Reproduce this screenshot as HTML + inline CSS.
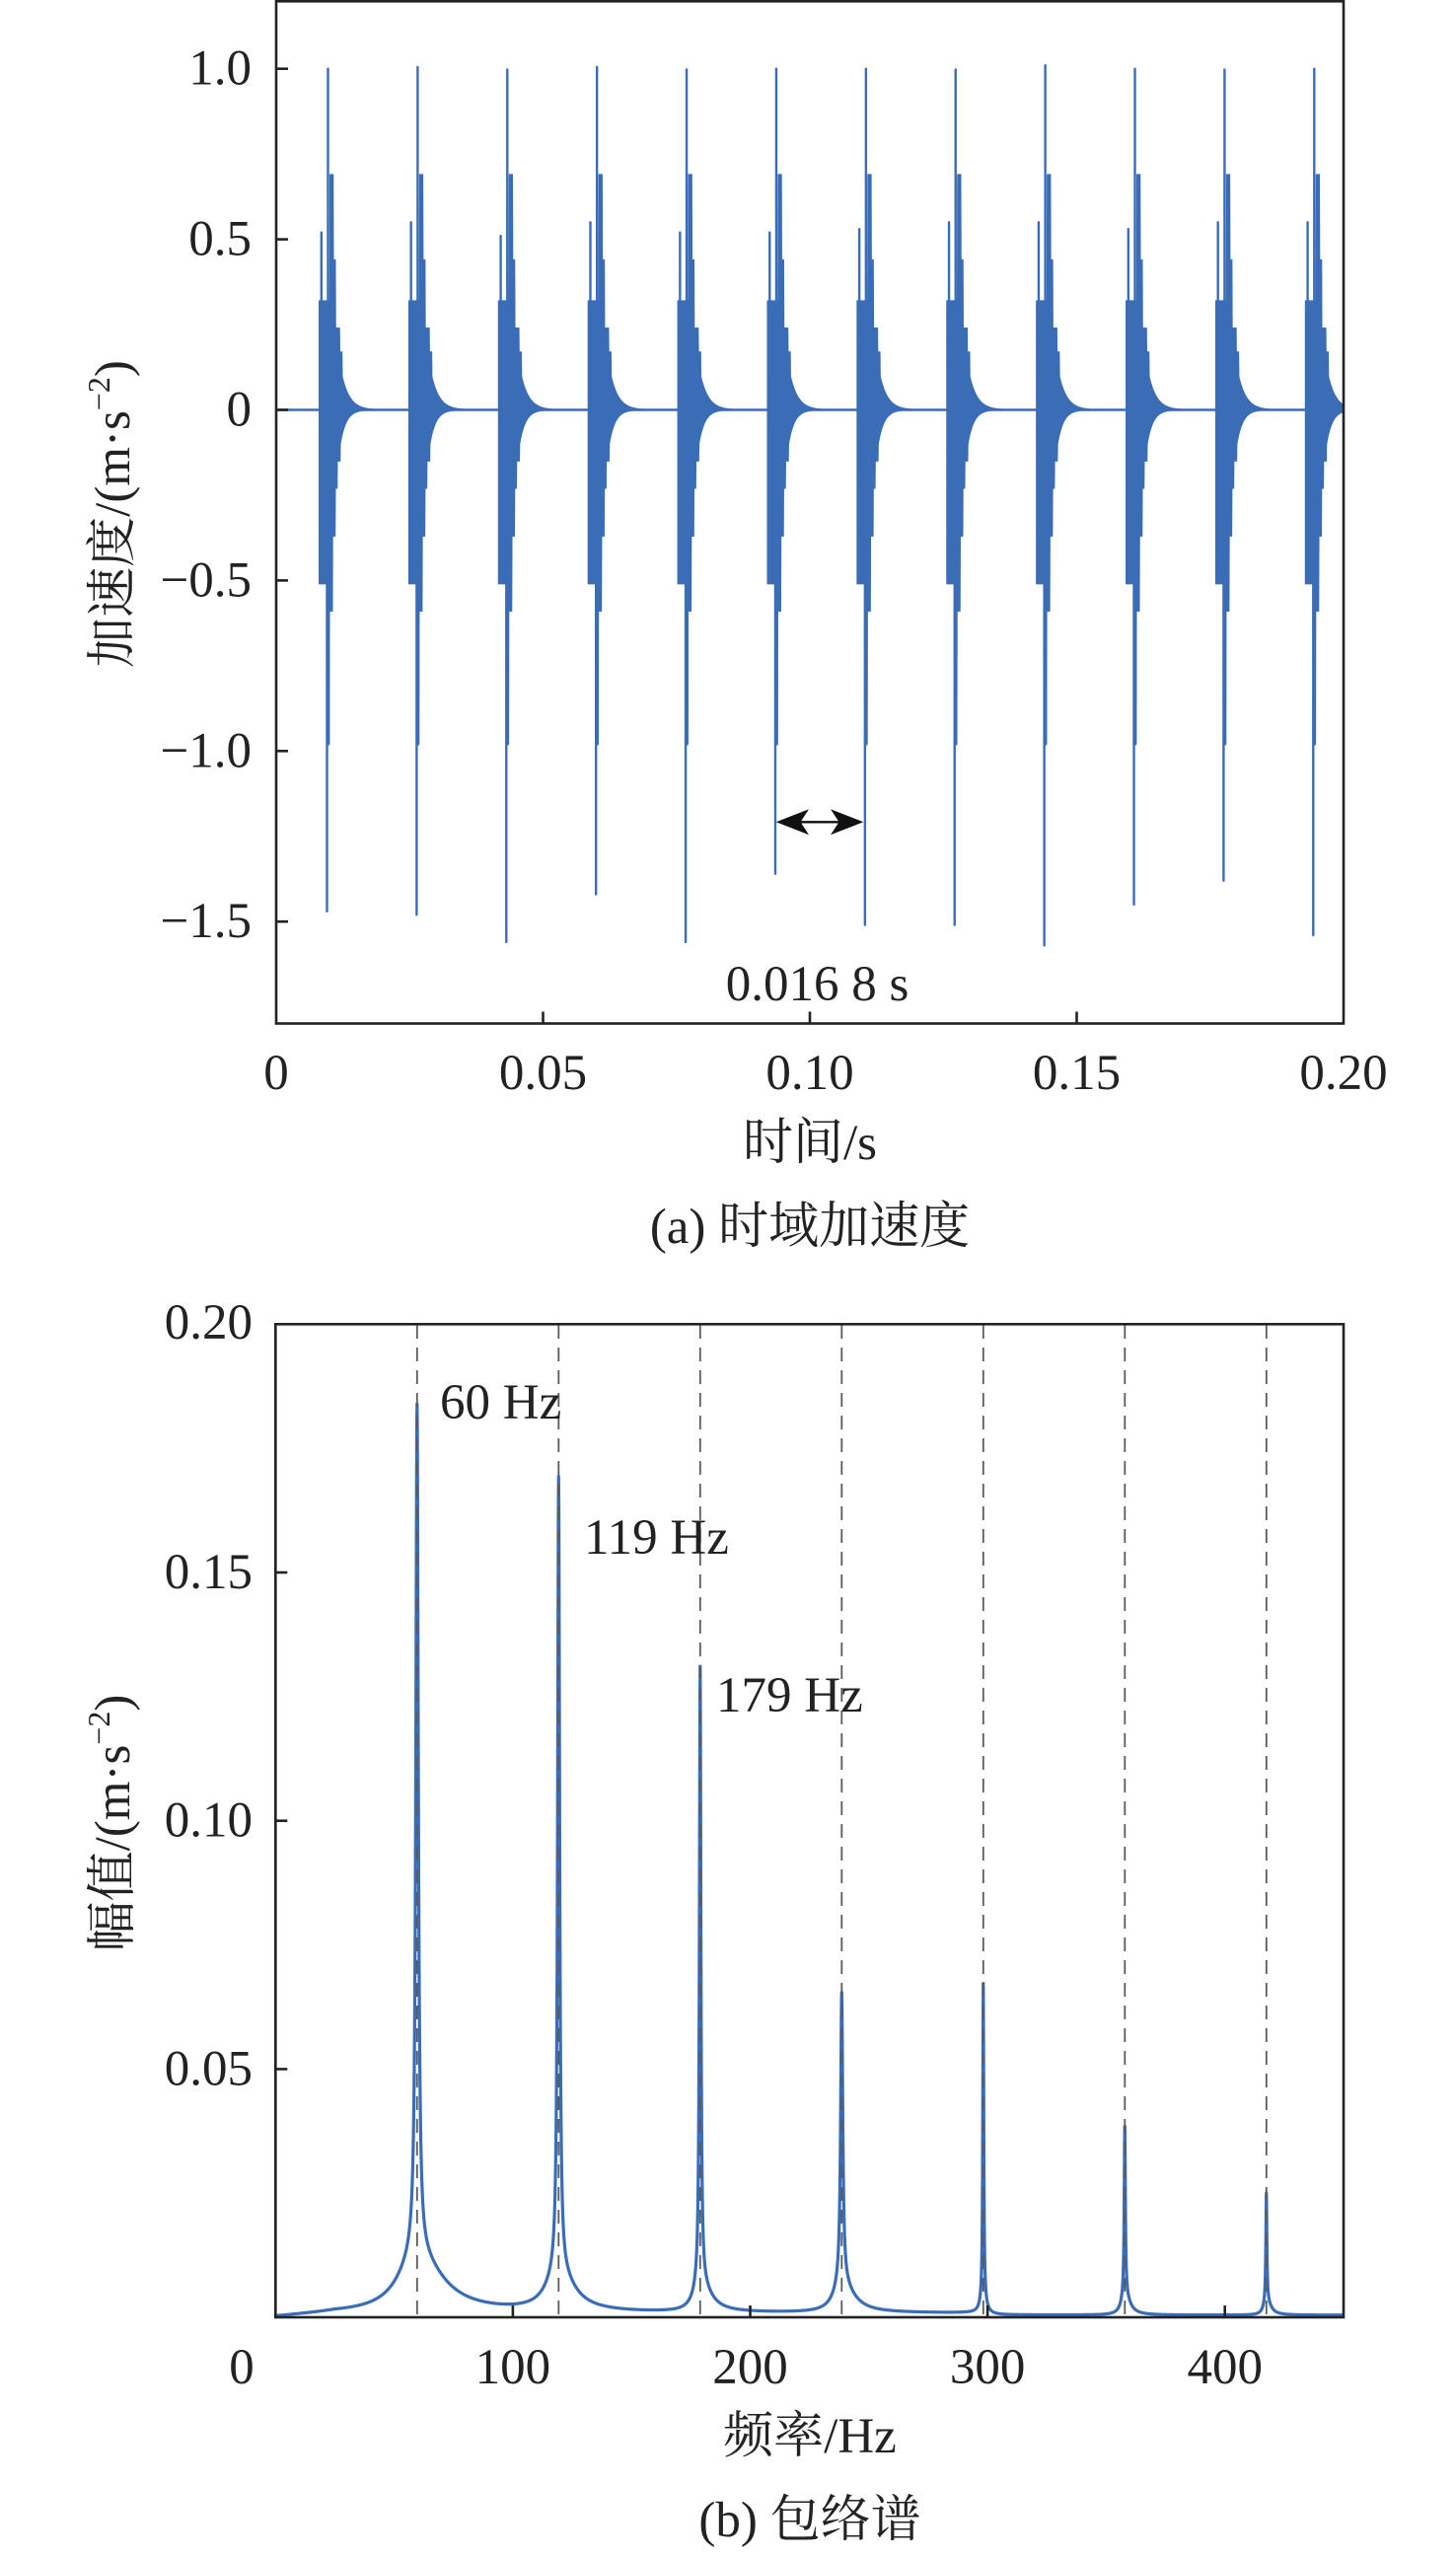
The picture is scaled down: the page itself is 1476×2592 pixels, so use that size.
<!DOCTYPE html>
<html><head><meta charset="utf-8">
<style>
html,body{margin:0;padding:0;background:#fff;}
svg{display:block;}
text{font-family:"Liberation Serif","Noto Serif CJK SC",serif;fill:#222;font-size:51px;}
</style></head><body>
<svg id="s" width="1476" height="2592" viewBox="0 0 1476 2592" xmlns="http://www.w3.org/2000/svg">
<defs>
<clipPath id="ca"><rect x="280" y="0" width="1082" height="1037.5"/></clipPath>
<clipPath id="cb"><rect x="279.3" y="1342.3" width="1082.7" height="1006.7"/></clipPath>
</defs>
<rect width="1476" height="2592" fill="#fff"/>

<!-- ===== Plot (a) ===== -->
<g id="sigA" clip-path="url(#ca)"></g>
<g stroke="#222" stroke-width="2.6" fill="none">
<rect x="280" y="1.3" width="1082" height="1036.2"/>
<line x1="280" y1="69.7" x2="292" y2="69.7"/>
<line x1="280" y1="242.6" x2="292" y2="242.6"/>
<line x1="280" y1="415.5" x2="292" y2="415.5"/>
<line x1="280" y1="588.4" x2="292" y2="588.4"/>
<line x1="280" y1="761.3" x2="292" y2="761.3"/>
<line x1="280" y1="934.2" x2="292" y2="934.2"/>
<line x1="550.5" y1="1037.5" x2="550.5" y2="1025.5"/>
<line x1="821" y1="1037.5" x2="821" y2="1025.5"/>
<line x1="1091.5" y1="1037.5" x2="1091.5" y2="1025.5"/>
</g>
<g text-anchor="end">
<text x="255" y="85.7">1.0</text>
<text x="255" y="258.6">0.5</text>
<text x="255" y="431.5">0</text>
<text x="255" y="604.4">−0.5</text>
<text x="255" y="777.3">−1.0</text>
<text x="255" y="950.2">−1.5</text>
</g>
<g text-anchor="middle">
<text x="280" y="1104">0</text>
<text x="550.5" y="1104">0.05</text>
<text x="821" y="1104">0.10</text>
<text x="1091.5" y="1104">0.15</text>
<text x="1362" y="1104">0.20</text>
<text x="821" y="1175">时间/s</text>
<text x="821" y="1260">(a) 时域加速度</text>
<text x="828.5" y="1014">0.016 8 s</text>
</g>
<text transform="translate(113,521) rotate(-90)" text-anchor="middle" y="18">加速度/(m·s<tspan font-size="32" dy="-20">−2</tspan><tspan dy="20">)</tspan></text>
<!-- arrow -->
<line x1="805" y1="833.3" x2="857" y2="833.3" stroke="#111" stroke-width="2.4"/>
<polygon points="786.7,833.3 820,820.3 811.5,833.3 820,846.3" fill="#111"/>
<polygon points="875.3,833.3 842,820.3 850.5,833.3 842,846.3" fill="#111"/>

<!-- ===== Plot (b) ===== -->
<g id="sigB" clip-path="url(#cb)"></g>
<g stroke="#5a5a5a" stroke-width="1.8" stroke-dasharray="14 9" fill="none">
<line x1="422.8" y1="1343" x2="422.8" y2="2348"/>
<line x1="566.3" y1="1343" x2="566.3" y2="2348"/>
<line x1="709.8" y1="1343" x2="709.8" y2="2348"/>
<line x1="853.3" y1="1343" x2="853.3" y2="2348"/>
<line x1="996.8" y1="1343" x2="996.8" y2="2348"/>
<line x1="1140.3" y1="1343" x2="1140.3" y2="2348"/>
<line x1="1283.8" y1="1343" x2="1283.8" y2="2348"/>
</g>
<g stroke="#222" stroke-width="2.6" fill="none">
<rect x="279.3" y="1342.3" width="1082.7" height="1006.7"/>
<line x1="279.3" y1="1594" x2="291.3" y2="1594"/>
<line x1="279.3" y1="1845.7" x2="291.3" y2="1845.7"/>
<line x1="279.3" y1="2097.4" x2="291.3" y2="2097.4"/>
<line x1="519.9" y1="2349" x2="519.9" y2="2337"/>
<line x1="760.5" y1="2349" x2="760.5" y2="2337"/>
<line x1="1001.1" y1="2349" x2="1001.1" y2="2337"/>
<line x1="1241.7" y1="2349" x2="1241.7" y2="2337"/>
</g>
<g text-anchor="end">
<text x="256" y="1357">0.20</text>
<text x="256" y="1610">0.15</text>
<text x="256" y="1861.7">0.10</text>
<text x="256" y="2113.4">0.05</text>
</g>
<g text-anchor="middle">
<text x="245" y="2416">0</text>
<text x="519.9" y="2416">100</text>
<text x="760.5" y="2416">200</text>
<text x="1001.1" y="2416">300</text>
<text x="1241.7" y="2416">400</text>
<text x="821" y="2486">频率/Hz</text>
<text x="821" y="2571">(b) 包络谱</text>
</g>
<text x="446" y="1438">60 Hz</text>
<text x="592" y="1575">119 Hz</text>
<text x="726" y="1735">179 Hz</text>
<text transform="translate(113,1848) rotate(-90)" text-anchor="middle" y="18">幅值/(m·s<tspan font-size="32" dy="-20">−2</tspan><tspan dy="20">)</tspan></text>
</svg>

<script>
(function(){
const NS='http://www.w3.org/2000/svg';
function el(tag,attrs,parent){const e=document.createElementNS(NS,tag);for(const k in attrs)e.setAttribute(k,attrs[k]);parent.appendChild(e);return e;}
const BLUE='#3a6db5';

/* ---- plot (a) ---- */
const gA=document.getElementById('sigA');
const Y0=415.5,U=345.8;
const yv=v=>(Y0-v*U).toFixed(2);
el('line',{x1:280,y1:Y0,x2:1362,y2:Y0,stroke:BLUE,'stroke-width':2.4},gA);
const upS=[[0,0.32],[11,0.69],[14.3,0.44],[16.7,0.24],[21,0.17],[23.3,0.10]];
const loS=[[0,-0.51],[8.5,-0.98],[10.3,-0.59],[13.7,-0.37],[16.3,-0.23],[18.3,-0.15],[21.5,-0.10]];
function up(d){ if(d>=23.3) return 0.10*Math.exp(-(d-23.3)/8); let v=upS[0][1]; for(const [a,b] of upS){if(d>=a)v=b;} return v;}
function lo(d){ if(d>=21.5) return -0.10*Math.exp(-(d-21.5)/6); let v=loS[0][1]; for(const [a,b] of loS){if(d>=a)v=b;} return v;}
const tips=[-1.47,-1.48,-1.56,-1.42,-1.56,-1.36,-1.51,-1.51,-1.57,-1.45,-1.38,-1.54];
const up2=[0.52,0.55,0.51,0.55,0.52,0.52,0.53,0.55,0.55,0.53,0.55,0.55];
const pk=[1.0,1.005,0.998,1.005,0.998,1.0,1.0,0.998,1.01,1.0,0.998,1.0];
for(let k=0;k<12;k++){
  const s=323.5+90.89*k;
  const p=[];
  for(let d=0;d<=62;d+=0.25)p.push((s+d).toFixed(2)+','+yv(up(d)));
  for(let d=62;d>=0;d-=0.25)p.push((s+d).toFixed(2)+','+yv(lo(d)));
  el('polygon',{points:p.join(' '),fill:BLUE,stroke:BLUE,'stroke-width':1,'stroke-linejoin':'round'},gA);
  const L=(x,v)=>el('line',{x1:x.toFixed(2),y1:Y0,x2:x.toFixed(2),y2:yv(v),stroke:BLUE,'stroke-width':2.4,'stroke-linecap':'round'},gA);
  L(s+2.3,up2[k]);
  L(s+9,pk[k]);
  L(s+8,tips[k]);
  L(s+9.6,-0.98);
}

/* ---- plot (b) ---- */
const gB=document.getElementById('sigB');
const BX0=279.3,BW=1082.7,BY0=2349,BU=5034;
const pxHz=BW/450,f0=59.64;
const P=[[0.171,1.5,0.012,22,30],[0.160,1.2,0.008,14,18],[0.124,0.9,0.006,7,12],[0.0585,1.3,0.006,9,14],[0.0634,0.6,0.003,3,3],[0.034,0.7,0.004,4,6],[0.0216,0.6,0.003,3,5]];
const xc=P.map((_,i)=>(i+1)*f0*pxHz);
function sv(x){
  const f=x/pxHz;
  let v=(0.0004+0.0004/(1+Math.exp((f-300)/2)))*Math.min(1,f/25);
  P.forEach((q,i)=>{const d=x-xc[i];v+=q[0]/(1+(d/q[1])*(d/q[1]));const g=d<0?q[3]:q[4];v+=q[2]/(1+(d/g)*(d/g));});
  return v;
}
const xs=[];for(let x=0;x<=BW;x+=0.25)xs.push(x);xc.forEach(c=>xs.push(c));xs.sort((a,b)=>a-b);
const dd='M'+xs.map(x=>(BX0+x).toFixed(2)+','+(BY0-sv(x)*BU).toFixed(2)).join('L');
el('path',{d:dd,fill:'none',stroke:BLUE,'stroke-width':3.2,'stroke-linejoin':'round'},gB);
})();
</script>
</body></html>
